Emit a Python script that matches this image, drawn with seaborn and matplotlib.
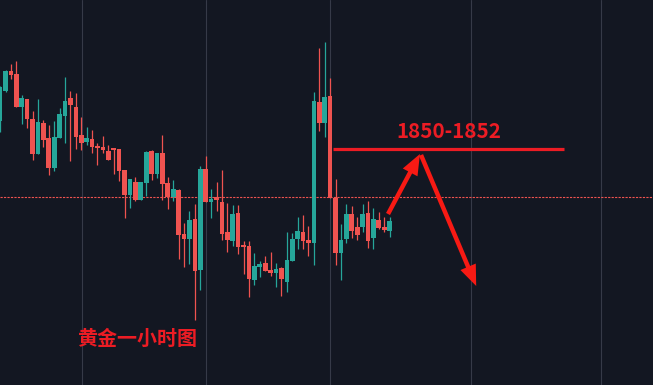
import numpy as np
import pandas as pd
import seaborn as sns
import matplotlib.pyplot as plt
from matplotlib.patches import FancyArrowPatch

# Gold 1h candles
opens = [1853.9, 1856.9, 1858.9, 1858.6, 1855.3, 1856.1, 1854.1, 1850.6, 1853.7, 1852.2,
         1849.2, 1852.2, 1854.4, 1856.2, 1855.3, 1852.5, 1851.8, 1852.1, 1851.4, 1851.3,
         1850.9, 1851.2, 1851.1, 1849.0, 1846.5, 1847.8, 1846.0, 1847.7, 1850.9, 1848.6,
         1850.7, 1847.7, 1846.3, 1847.0, 1842.6, 1842.1, 1844.1, 1839.0, 1849.1, 1845.8,
         1846.3, 1845.8, 1842.8, 1841.9, 1844.7, 1841.4, 1841.4, 1838.0, 1839.3, 1839.7,
         1839.0, 1838.7, 1839.2, 1837.8, 1839.9, 1842.1, 1842.8, 1842.0, 1841.7, 1855.8,
         1853.7, 1856.4, 1846.2, 1840.7, 1842.1, 1844.6, 1843.3, 1843.3, 1844.7, 1842.2,
         1844.0, 1843.3, 1842.9]
highs = [1857.4, 1859.0, 1859.6, 1859.9, 1856.5, 1856.1, 1854.9, 1856.1, 1854.0, 1853.5,
         1853.9, 1855.2, 1858.3, 1856.9, 1856.7, 1854.3, 1853.3, 1853.0, 1851.7, 1852.4,
         1851.5, 1851.2, 1851.1, 1849.0, 1848.1, 1848.3, 1847.8, 1850.9, 1851.0, 1850.7,
         1852.5, 1848.3, 1848.0, 1847.1, 1843.7, 1844.9, 1845.6, 1849.4, 1850.4, 1847.1,
         1847.8, 1849.0, 1845.7, 1845.5, 1845.5, 1841.9, 1841.9, 1840.7, 1839.9, 1840.4,
         1840.8, 1839.7, 1839.3, 1842.8, 1842.7, 1844.3, 1844.5, 1843.4, 1856.8, 1861.2,
         1861.8, 1858.2, 1848.1, 1843.6, 1845.6, 1845.4, 1844.3, 1845.6, 1845.9, 1845.2,
         1844.8, 1844.3, 1844.3]
lows = [1852.8, 1856.8, 1858.1, 1855.3, 1853.6, 1853.2, 1850.0, 1850.6, 1851.3, 1848.5,
        1848.9, 1852.2, 1851.7, 1849.9, 1851.1, 1851.0, 1851.5, 1850.7, 1849.5, 1850.7,
        1850.0, 1848.6, 1847.9, 1844.2, 1845.2, 1845.9, 1846.0, 1846.4, 1848.0, 1848.2,
        1846.0, 1845.1, 1845.9, 1840.1, 1839.3, 1839.6, 1834.0, 1837.0, 1845.8, 1844.2,
        1844.9, 1842.0, 1840.8, 1841.4, 1840.6, 1838.6, 1836.3, 1837.5, 1838.3, 1838.9,
        1838.4, 1837.3, 1836.4, 1836.8, 1839.9, 1841.1, 1841.1, 1840.4, 1839.5, 1852.9,
        1852.3, 1846.2, 1839.5, 1838.0, 1841.7, 1842.2, 1842.0, 1842.8, 1841.2, 1841.1,
        1843.1, 1842.8, 1842.3]
closes = [1857.3, 1858.9, 1858.5, 1855.3, 1856.2, 1854.1, 1850.6, 1853.8, 1852.0, 1849.2,
          1852.3, 1854.6, 1855.9, 1855.5, 1852.3, 1851.7, 1852.2, 1851.3, 1851.2, 1851.0,
          1850.0, 1851.0, 1848.9, 1846.5, 1848.1, 1846.0, 1847.8, 1850.8, 1848.6, 1850.7,
          1847.6, 1846.3, 1847.1, 1842.5, 1842.1, 1844.0, 1838.9, 1849.1, 1845.8, 1846.1,
          1846.0, 1842.6, 1842.0, 1844.6, 1841.3, 1841.3, 1838.1, 1839.4, 1839.6, 1838.9,
          1838.7, 1839.1, 1838.1, 1840.0, 1842.1, 1842.9, 1841.9, 1841.7, 1855.9, 1853.7,
          1856.3, 1846.2, 1840.7, 1842.0, 1844.6, 1842.9, 1842.5, 1844.6, 1841.9, 1844.1,
          1843.2, 1843.0, 1843.9]

price_line = 1846.3          # dashed current price line
target_low, target_high = 1850, 1852
target_level = 1851.1
day_breaks = [15.1, 38.0, 61.0, 87.0, 111.0]   # vertical grid (candle index)

df = pd.DataFrame({"open": opens, "high": highs, "low": lows, "close": closes})
df["idx"] = np.arange(len(df))
df["up"] = df["close"] >= df["open"]

bg = "#131722"
up_col = "#26a69a"
dn_col = "#ef5350"
mark = "#ec1c24"
arrow_col = "#f81a14"

sns.set_theme(style="dark", rc={"axes.facecolor": bg, "figure.facecolor": bg})
plt.rcParams["font.family"] = ["Noto Sans CJK SC", "DejaVu Sans"]
plt.rcParams["lines.scale_dashes"] = False

fig = plt.figure(figsize=(6.53, 3.85), dpi=100)
ax = fig.add_axes([0, 0, 1, 1])
ax.set_facecolor(bg)

for x in day_breaks:
    ax.axvline(x, color="#363a48", lw=0.8, zorder=0)

colors = np.where(df["up"], up_col, dn_col)
ax.vlines(df["idx"], df["low"], df["high"], colors=colors, lw=0.9, zorder=2)
body_lo = df[["open", "close"]].min(axis=1)
body_h = (df["open"] - df["close"]).abs().clip(lower=0.15)
ax.bar(df["idx"], body_h, bottom=body_lo, width=0.86, color=colors, linewidth=0, zorder=3)

ax.axhline(price_line, color=dn_col, lw=0.8, ls=(0, (1.6, 0.9)), zorder=1)

# target zone annotation
ax.hlines(target_level, 61.5, 104.2, color=mark, lw=2.3, zorder=4)
ax.text(83.0, 1852.2, f"{target_low}-{target_high}", color=mark, fontsize=14.8,
        fontweight="bold", ha="center", va="baseline", zorder=5)

style = "simple,head_length=15,head_width=12,tail_width=3.2"
ax.add_patch(FancyArrowPatch((71.7, 1844.6), (77.6, 1850.6), arrowstyle=style,
                             color=arrow_col, shrinkA=0, shrinkB=0, lw=0, zorder=5))
ax.add_patch(FancyArrowPatch((77.8, 1850.5), (88.0, 1837.4), arrowstyle=style,
                             color=arrow_col, shrinkA=0, shrinkB=0, lw=0, zorder=5))

ax.text(25.4, 1832.2, "黄金一小时图", color=mark, fontsize=14.4, fontweight="bold",
        ha="center", va="center", zorder=5)

ax.set_xlim(-0.02, 120.68)
ax.set_ylim(1827.5, 1866.0)
ax.axis("off")

fig.savefig("out.png", dpi=100, facecolor=bg)
plt.close(fig)
